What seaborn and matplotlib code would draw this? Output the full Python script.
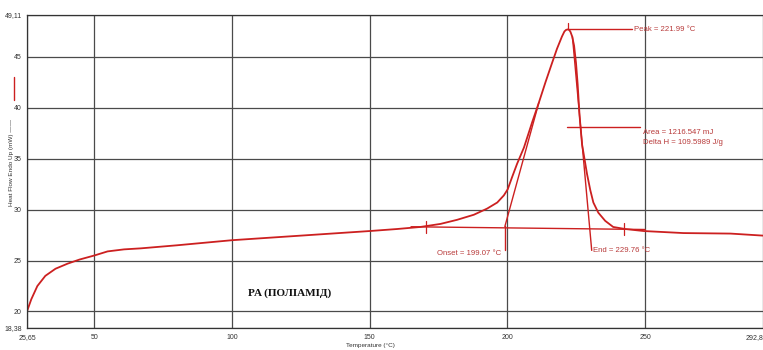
import matplotlib
matplotlib.use("Agg")
import matplotlib.pyplot as plt
from matplotlib.lines import Line2D
import seaborn as sns
import pandas as pd

# ---- data ----
temp = [25.65, 27.1, 29.3, 32.2, 35.9, 40.3, 44.6, 50.0, 54.8, 60.8, 66.9, 80.0,
        100.0, 125.0, 150.0, 160.0, 168.4, 175.7, 181.7, 187.8, 192.6, 196.3, 198.7,
        200.1, 201.7, 203.5, 206.0, 209.0, 211.4, 213.8, 216.2, 218.0, 219.8, 220.7,
        221.3, 222.0, 222.5, 222.9, 223.5, 224.2, 224.9, 225.5, 226.2, 227.1, 228.9,
        230.1, 231.2, 233.0, 235.5, 238.4, 242.7, 249.5, 263.9, 281.0, 292.8]
heat = [20.1, 21.2, 22.5, 23.5, 24.2, 24.7, 25.1, 25.5, 25.9, 26.1, 26.2, 26.5,
        27.0, 27.45, 27.9, 28.1, 28.3, 28.6, 29.0, 29.5, 30.1, 30.7, 31.4,
        32.0, 33.2, 34.5, 36.1, 38.6, 40.5, 42.5, 44.4, 45.8, 47.0, 47.5,
        47.65, 47.7, 47.62, 47.45, 47.0, 46.1, 44.4, 42.3, 39.2, 36.4, 33.5,
        31.9, 30.7, 29.7, 28.9, 28.3, 28.1, 27.9, 27.7, 27.65, 27.45]

baseline_x = [165.0, 250.0]
baseline_y = [28.32, 28.05]
baseline_ticks_x = [170.6, 242.4]
baseline_ticks_y = [28.3, 28.1]

onset_T = 199.07
onset_drop_y = [26.0, 28.4]
onset_tangent_x = [199.07, 211.4]
onset_tangent_y = [28.35, 40.5]

end_tangent_x = [223.6, 230.6]
end_tangent_y = [47.0, 26.0]

peak_T = 221.99
peak_y = 47.7
peak_line_end = 245.3
area_line_x = [221.6, 248.3]
area_line_y = 38.1

x_ticks = [25.65, 50, 100, 150, 200, 250, 292.8]
x_tick_labels = ["25,65", "50", "100", "150", "200", "250", "292,8"]
y_ticks = [18.38, 20, 25, 30, 35, 40, 45, 49.11]
y_tick_labels = ["18,38", "20", "25", "30", "35", "40", "45", "49,11"]

sns.set_theme(style="white")
plt.rcParams["font.family"] = ["Liberation Sans", "DejaVu Sans"]

RED = "#cc2020"
TXT = "#b83a3a"
GRID = "#4a4a4a"

fig = plt.figure(figsize=(7.63, 3.5), dpi=100)
ax = fig.add_axes([27.3 / 763, 1 - 328 / 350, 1 - 27.3 / 763, (328 - 15) / 350])

df = pd.DataFrame({"T": temp, "H": heat})
sns.lineplot(data=df, x="T", y="H", ax=ax, color=RED, lw=1.3, sort=False)

# analysis lines
ax.plot(baseline_x, baseline_y, color=RED, lw=1.0)
for bx, by in zip(baseline_ticks_x, baseline_ticks_y):
    ax.plot([bx, bx], [by - 0.6, by + 0.6], color=RED, lw=0.9)
ax.plot([onset_T, onset_T], onset_drop_y, color=RED, lw=1.0)
ax.plot(onset_tangent_x, onset_tangent_y, color=RED, lw=1.0)
ax.plot(end_tangent_x, end_tangent_y, color=RED, lw=1.0)
ax.plot([peak_T, peak_T], [peak_y, peak_y + 0.65], color=RED, lw=0.9)
ax.plot([peak_T, peak_line_end], [peak_y, peak_y], color=RED, lw=1.0)
ax.plot(area_line_x, [area_line_y, area_line_y], color=RED, lw=1.0)

fs = 5.6
ax.text(peak_line_end + 0.5, peak_y, "Peak = 221.99 °C", color=TXT, fontsize=fs, va="center", ha="left")
ax.text(area_line_x[1] + 1.0, 37.55, "Area = 1216.547 mJ", color=TXT, fontsize=fs, va="center", ha="left")
ax.text(area_line_x[1] + 1.0, 36.6, "Delta H = 109.5989 J/g", color=TXT, fontsize=fs, va="center", ha="left")
ax.text(197.8, 25.7, "Onset = 199.07 °C", color=TXT, fontsize=fs, va="center", ha="right")
ax.text(231.1, 26.0, "End = 229.76 °C", color=TXT, fontsize=fs, va="center", ha="left")

ax.text(105.9, 21.76, "PA (ПОЛІАМІД)", fontsize=8, fontweight="bold",
        family=["Liberation Serif", "DejaVu Serif"], color="#111", va="center", ha="left")

ax.set_xlim(x_ticks[0], x_ticks[-1])
ax.set_ylim(y_ticks[0], y_ticks[-1])
ax.set_xticks(x_ticks)
ax.set_xticklabels(x_tick_labels)
ax.set_yticks(y_ticks)
ax.set_yticklabels(y_tick_labels)
ax.get_xticklabels()[-1].set_horizontalalignment("right")
ax.grid(True, color=GRID, lw=0.9)
ax.tick_params(axis="both", labelsize=5, colors="#333", length=4, direction="inout", width=0.8, pad=2)
ax.set_xlabel("")
ax.set_ylabel("")
for s in ["left", "bottom", "top"]:
    ax.spines[s].set_color("#333")
    ax.spines[s].set_linewidth(0.9)
ax.spines["right"].set_visible(False)

fig.text(370 / 763, 1 - 345 / 350, "Temperature (°C)", fontsize=4.6, color="#333", ha="center", va="center")
fig.text(12 / 763, 1 - 163 / 350, "Heat Flow Endo Up (mW) ——", fontsize=4.6, color="#333",
         rotation=90, ha="center", va="center")
fig.add_artist(Line2D([14 / 763, 14 / 763], [1 - 100 / 350, 1 - 77 / 350], color=RED, lw=1.0,
                      transform=fig.transFigure))

fig.savefig("out.png", dpi=100)
